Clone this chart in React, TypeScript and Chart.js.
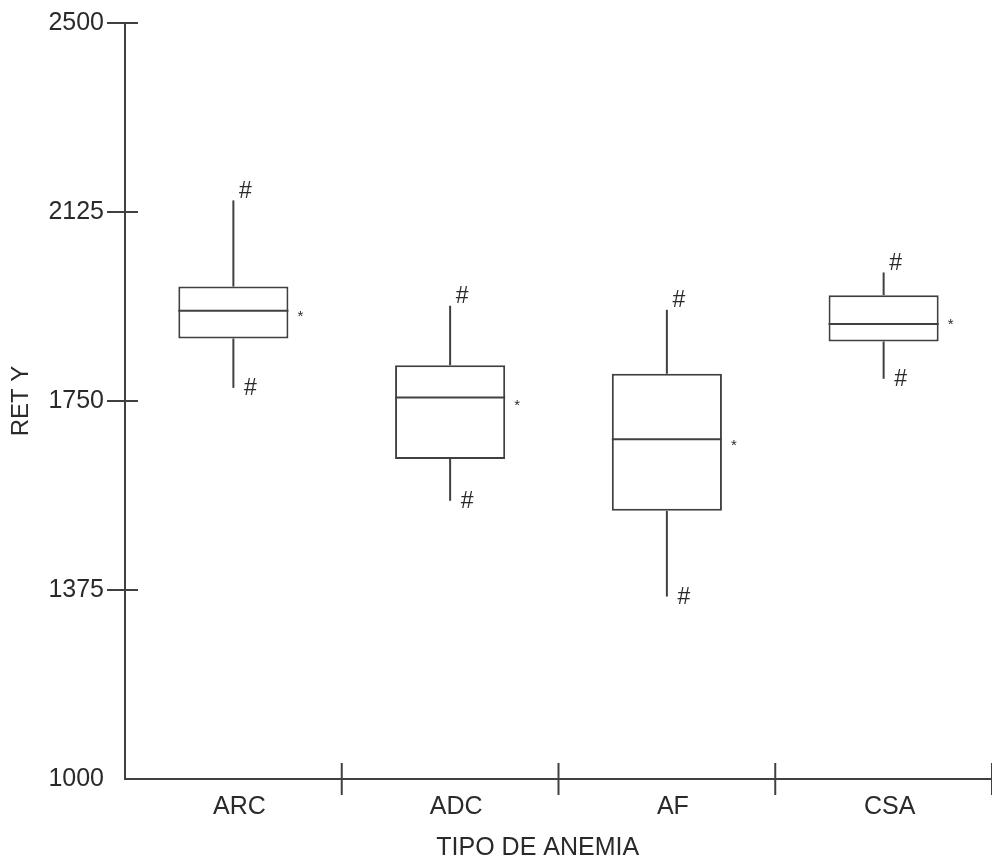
import React, { useEffect, useRef } from 'react';
import { Chart, registerables } from 'chart.js';

Chart.register(...registerables);

const categories = ['ARC', 'ADC', 'AF', 'CSA'];
const whiskerLow = [1776, 1552, 1362, 1794];
const quartile1 = [1874, 1635, 1532, 1868];
const medians = [1929, 1757, 1674, 1903];
const quartile3 = [1977, 1821, 1804, 1960];
const whiskerHigh = [2148, 1939, 1931, 2005];
const means = [1925, 1749, 1669, 1908];
const yTicks = [1000, 1375, 1750, 2125, 2500];
const xTitle = 'TIPO DE ANEMIA';
const yTitle = 'RET Y';

const LINE = '#404040';
const TEXT = '#2a2a2a';
const FONT = '"Liberation Sans", Arial, sans-serif';

const extrasPlugin = {
  id: 'boxExtras',
  afterDatasetsDraw(chart: any) {
    const ctx = chart.ctx;
    const ys = chart.scales.y;
    const meta = chart.getDatasetMeta(0);
    ctx.save();
    ctx.strokeStyle = LINE;
    ctx.lineWidth = 2;
    const seg = (x1: number, y1: number, x2: number, y2: number) => {
      ctx.beginPath();
      ctx.moveTo(x1, y1);
      ctx.lineTo(x2, y2);
      ctx.stroke();
    };
    meta.data.forEach((bar: any, i: number) => {
      const { x: cx, width } = bar.getProps(['x', 'width'], true);
      const l = cx - width / 2;
      const r = cx + width / 2;
      const yMed = ys.getPixelForValue(medians[i]);
      const yQ1 = ys.getPixelForValue(quartile1[i]);
      const yQ3 = ys.getPixelForValue(quartile3[i]);
      const yMax = ys.getPixelForValue(whiskerHigh[i]);
      const yMin = ys.getPixelForValue(whiskerLow[i]);
      const yMean = ys.getPixelForValue(means[i]);
      seg(l, yMed, r, yMed);
      seg(cx, yQ3, cx, yMax);
      seg(cx, yQ1, cx, yMin);
      ctx.fillStyle = TEXT;
      ctx.font = '23px ' + FONT;
      ctx.textAlign = 'center';
      ctx.textBaseline = 'middle';
      ctx.fillText('#', cx + 12, yMax - 9);
      ctx.fillText('#', cx + 17, yMin + 1);
      ctx.font = '15px ' + FONT;
      ctx.textBaseline = 'alphabetic';
      ctx.fillText('*', r + 12, yMean + 8);
    });
    ctx.restore();
  },
  afterDraw(chart: any) {
    const ctx = chart.ctx;
    const ys = chart.scales.y;
    const area = chart.chartArea;
    ctx.save();
    ctx.strokeStyle = LINE;
    ctx.lineWidth = 2;
    yTicks.forEach((v, i) => {
      if (i === 0) return;
      const py = ys.getPixelForValue(v);
      ctx.beginPath();
      ctx.moveTo(area.left - 18, py);
      ctx.lineTo(area.left + 13, py);
      ctx.stroke();
    });
    const w = (area.right - area.left) / categories.length;
    for (let i = 1; i <= categories.length; i++) {
      const px = area.left + i * w;
      ctx.beginPath();
      ctx.moveTo(px, area.bottom - 16);
      ctx.lineTo(px, area.bottom + 16);
      ctx.stroke();
    }
    ctx.fillStyle = TEXT;
    ctx.font = '25px ' + FONT;
    ctx.textAlign = 'center';
    ctx.textBaseline = 'middle';
    ctx.fillText(xTitle, area.left + (area.right - area.left) * 0.476, area.bottom + 69);
    ctx.restore();
  },
};

export default function App() {
  const ref = useRef<HTMLCanvasElement>(null);
  useEffect(() => {
    if (!ref.current) return;
    const chart = new Chart(ref.current, {
      type: 'bar',
      data: {
        labels: categories,
        datasets: [
          {
            data: categories.map((_, i) => [quartile1[i], quartile3[i]]) as any,
            backgroundColor: '#ffffff',
            borderColor: LINE,
            borderWidth: 2,
            borderSkipped: false,
            barPercentage: 0.508,
            categoryPercentage: 1,
          },
        ],
      },
      options: {
        responsive: false,
        animation: false,
        layout: { padding: { top: 23, right: 0, bottom: 0, left: 0 } },
        plugins: { legend: { display: false }, tooltip: { enabled: false } },
        scales: {
          x: {
            offset: true,
            grid: { display: false },
            border: { display: true, color: LINE, width: 2 },
            ticks: { color: TEXT, font: { family: FONT, size: 25 }, padding: 5, labelOffset: 6 },
            afterFit: (s: any) => { s.height = 83; },
          },
          y: {
            min: 1000,
            max: 2500,
            afterBuildTicks: (s: any) => { s.ticks = yTicks.map((v) => ({ value: v })); },
            grid: { display: true, drawOnChartArea: false, drawTicks: true, tickLength: 18, color: 'rgba(0,0,0,0)' },
            border: { display: true, color: LINE, width: 2 },
            ticks: {
              color: TEXT,
              font: { family: FONT, size: 25 },
              padding: 3,
              callback: (v: any) => String(v),
            },
            title: { display: true, text: yTitle, color: TEXT, font: { family: FONT, size: 24 }, padding: { top: 7, bottom: 0 } },
            afterFit: (s: any) => { s.width = 125; },
          },
        },
      },
      plugins: [extrasPlugin],
    });
    return () => chart.destroy();
  }, []);
  return (
    <div style={{ position: 'absolute', left: 0, top: 0, width: 992, height: 862 }}>
      <canvas ref={ref} width={992} height={862} style={{ display: 'block' }} />
    </div>
  );
}
